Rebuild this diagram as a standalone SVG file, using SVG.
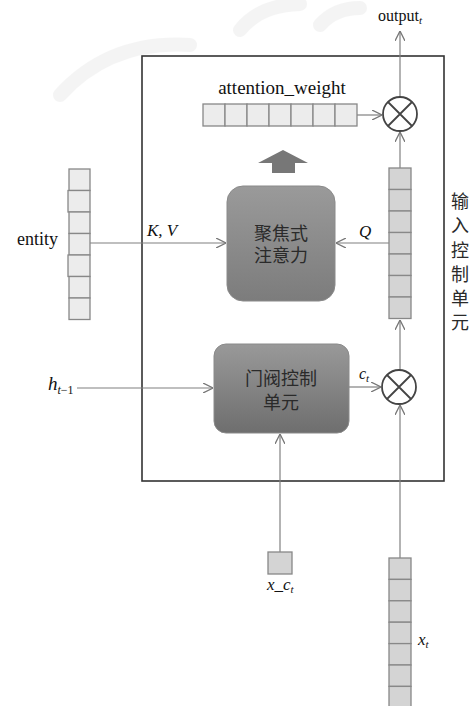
<svg xmlns="http://www.w3.org/2000/svg" width="474" height="706" viewBox="0 0 474 706">
<defs>
<linearGradient id="gBox" x1="0" y1="0" x2="0" y2="1"><stop offset="0" stop-color="#9a9a9a"/><stop offset="1" stop-color="#7c7c7c"/></linearGradient>
<linearGradient id="gBox2" x1="0" y1="0" x2="0" y2="1"><stop offset="0" stop-color="#999"/><stop offset="1" stop-color="#6e6e6e"/></linearGradient>
<marker id="arr" viewBox="0 0 10 10" refX="10" refY="5" markerWidth="10" markerHeight="10" markerUnits="userSpaceOnUse" orient="auto">
<path d="M0,0 L10,5 L0,10" fill="none" stroke="#777" stroke-width="1.3"/>
</marker>
<style>
.lat{font-family:"Liberation Serif","Times New Roman",serif;fill:#111}
.it{font-style:italic}
.cjk{font-family:"Liberation Serif","Noto Sans CJK SC",sans-serif;fill:#2a2a2a;font-size:18px}
.cell{fill:#d4d4d4;stroke:#888;stroke-width:1.3}
.cellL{fill:#ececec;stroke:#888;stroke-width:1.3}
.con{fill:none;stroke:#808080;stroke-width:1.2}
.otimes{fill:#fff;stroke:#444;stroke-width:1.8}
</style>
</defs>
<rect width="474" height="706" fill="#fff"/>
<!-- faint watermark -->
<g id="watermark" opacity="0.07" fill="none" stroke="#777" stroke-width="14" stroke-linecap="round">
<path d="M60,95 Q110,40 190,45"/>
<path d="M240,30 Q260,5 300,4"/>
<path d="M320,25 Q335,8 360,8"/>
</g>
<!-- frame -->
<g id="frame"><rect x="142" y="56" width="302" height="425" fill="none" stroke="#333" stroke-width="1.6"/></g>

<g id="connectors">
<line class="con" x1="400" y1="97" x2="400" y2="31" marker-end="url(#arr)"/>
<line class="con" x1="357" y1="115" x2="382" y2="115" marker-end="url(#arr)"/>
<line class="con" x1="400" y1="168" x2="400" y2="132" marker-end="url(#arr)"/>
<line class="con" x1="400" y1="370" x2="400" y2="320" marker-end="url(#arr)"/>
<line class="con" x1="400" y1="558" x2="400" y2="405" marker-end="url(#arr)"/>
<line class="con" x1="349" y1="387" x2="381" y2="387" marker-end="url(#arr)"/>
<line class="con" x1="280" y1="552" x2="280" y2="434" marker-end="url(#arr)"/>
<line class="con" x1="77" y1="388" x2="213" y2="388" marker-end="url(#arr)"/>
<line class="con" x1="90" y1="243" x2="226" y2="243" marker-end="url(#arr)"/>
<line class="con" x1="389" y1="243" x2="336" y2="243" marker-end="url(#arr)"/>
<polygon id="upArrow" points="283,150 308,163 295,163 295,173 272,173 272,163 258,163" fill="#777"/>
</g>

<g id="output"><text class="lat" x="378" y="21" font-size="16">output<tspan class="it" font-size="11" dy="3">t</tspan></text></g>

<g id="attention_weight">
<text class="lat" x="282" y="94" font-size="19" text-anchor="middle">attention_weight</text>
<rect class="cellL" x="203" y="104" width="22" height="22"/>
<rect class="cellL" x="225" y="104" width="22" height="22"/>
<rect class="cellL" x="247" y="104" width="22" height="22"/>
<rect class="cellL" x="269" y="104" width="22" height="22"/>
<rect class="cellL" x="291" y="104" width="22" height="22"/>
<rect class="cellL" x="313" y="104" width="22" height="22"/>
<rect class="cellL" x="335" y="104" width="22" height="22"/>
</g>

<g id="otimesTop">
<circle class="otimes" cx="400" cy="114" r="17"/>
<path d="M388,102 L412,126 M412,102 L388,126" stroke="#444" stroke-width="1.8"/>
</g>

<g id="otimesBottom">
<circle class="otimes" cx="399" cy="387" r="17"/>
<path d="M387,375 L411,399 M411,375 L387,399" stroke="#444" stroke-width="1.8"/>
</g>

<g id="Qvector">
<rect class="cell" x="389" y="168" width="22" height="21.5"/>
<rect class="cell" x="389" y="189.5" width="22" height="21.5"/>
<rect class="cell" x="389" y="211" width="22" height="21.5"/>
<rect class="cell" x="389" y="232.5" width="22" height="21.5"/>
<rect class="cell" x="389" y="254" width="22" height="21.5"/>
<rect class="cell" x="389" y="275.5" width="22" height="21.5"/>
<rect class="cell" x="389" y="297" width="22" height="21.5"/>
</g>

<g id="entity">
<text class="lat" x="17" y="245" font-size="18">entity</text>
<rect class="cellL" x="69" y="169" width="21" height="21.5"/>
<rect class="cellL" x="68" y="190.5" width="22" height="21.5"/>
<rect class="cellL" x="69" y="212" width="21" height="21.5"/>
<rect class="cellL" x="69" y="233.5" width="21" height="21.5"/>
<rect class="cellL" x="68" y="255" width="22" height="21.5"/>
<rect class="cellL" x="69" y="276.5" width="21" height="21.5"/>
<rect class="cellL" x="69" y="298" width="21" height="21.5"/>
</g>

<g id="focusAttention">
<rect x="227" y="186" width="108" height="115" rx="16" fill="url(#gBox)" stroke="#8a8a8a" stroke-width="1"/>
<text class="cjk" x="281" y="240" text-anchor="middle">聚焦式</text>
<text class="cjk" x="281" y="262" text-anchor="middle">注意力</text>
</g>

<g id="gateUnit">
<rect x="214" y="344" width="135" height="89" rx="12" fill="url(#gBox2)" stroke="#8a8a8a" stroke-width="1"/>
<text class="cjk" x="281" y="385" text-anchor="middle">门阀控制</text>
<text class="cjk" x="281" y="409" text-anchor="middle">单元</text>
</g>

<g id="labels">
<text class="lat it" x="147" y="236" font-size="17">K, V</text>
<text class="lat it" x="359" y="237" font-size="17">Q</text>
<text class="lat it" x="359" y="379" font-size="16">c<tspan font-size="11" dy="3">t</tspan></text>
<text class="lat it" x="48" y="390" font-size="19">h<tspan font-size="12" dy="4">t</tspan><tspan font-size="12" font-style="normal">−1</tspan></text>
</g>

<g id="xc">
<rect class="cell" x="268" y="552" width="24" height="22"/>
<text class="lat it" x="267" y="590" font-size="17">x_c<tspan font-size="11" dy="3">t</tspan></text>
</g>

<g id="xt">
<rect class="cell" x="389" y="558" width="22" height="21.4"/>
<rect class="cell" x="389" y="579.4" width="22" height="21.4"/>
<rect class="cell" x="389" y="600.8" width="22" height="21.4"/>
<rect class="cell" x="389" y="622.2" width="22" height="21.4"/>
<rect class="cell" x="389" y="643.6" width="22" height="21.4"/>
<rect class="cell" x="389" y="665" width="22" height="21.4"/>
<rect class="cell" x="389" y="686.4" width="22" height="21.4"/>
<text class="lat it" x="418" y="645" font-size="17">x<tspan font-size="11" dy="3">t</tspan></text>
</g>

<g id="inputControlLabel">
<text class="cjk" x="460" y="208" text-anchor="middle">输</text>
<text class="cjk" x="460" y="232" text-anchor="middle">入</text>
<text class="cjk" x="460" y="257" text-anchor="middle">控</text>
<text class="cjk" x="460" y="281" text-anchor="middle">制</text>
<text class="cjk" x="460" y="305" text-anchor="middle">单</text>
<text class="cjk" x="460" y="329" text-anchor="middle">元</text>
</g>
</svg>
